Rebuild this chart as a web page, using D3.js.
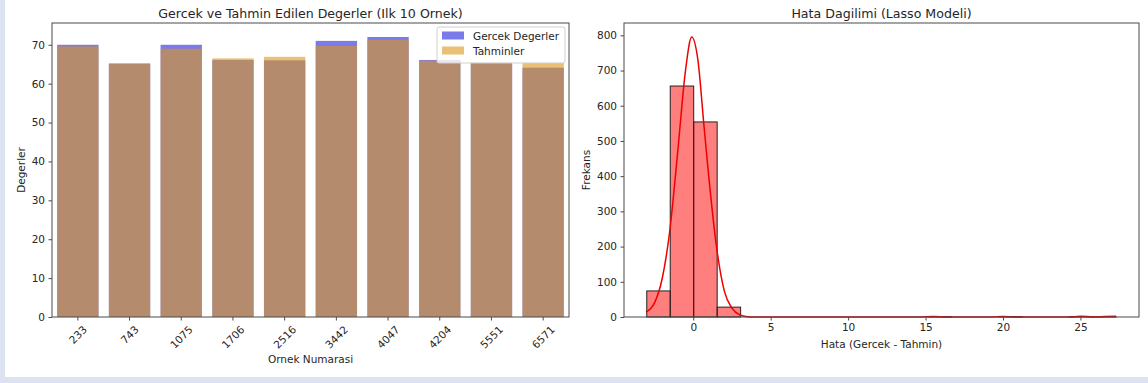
<!DOCTYPE html>
<html>
<head>
<meta charset="utf-8">
<script src="https://cdn.jsdelivr.net/npm/d3@7"></script>
<style>
  body { margin: 0; background: #dde2f0; }
  svg { display: block; }
  text { font-family: "DejaVu Sans", sans-serif; fill: #262626; }
</style>
</head>
<body>
<svg id="chart"></svg>
<script>
// left panel data (first 10 samples)
var sampleIds = ["233", "743", "1075", "1706", "2516", "3442", "4047", "4204", "5551", "6571"];
var gercekValues = [70.0, 65.1, 70.0, 66.1, 66.0, 71.0, 72.0, 66.1, 65.3, 64.1];
var tahminValues = [69.6, 65.3, 69.0, 66.5, 66.9, 69.7, 71.3, 65.9, 65.5, 65.4];
var leftYTicks = [0, 10, 20, 30, 40, 50, 60, 70];

// right panel: histogram of errors, 20 bins
var histStart = -3.0;
var histEnd = 27.3;
var histCounts = [74, 656, 554, 28, 0, 0, 0, 0, 0, 0, 0, 0, 1, 0, 0, 1, 0, 0, 1, 1];
// kde line (x, count)
var kdeX = [-3.05, -2.5, -2.0, -1.5, -1.0, -0.5, -0.1, 0.3, 0.7, 1.0, 1.5, 2.0, 2.5, 3.0, 3.5, 4.0, 8, 14.5, 15.5, 16.5, 19.2, 20.0, 20.8, 24.2, 25.0, 25.8, 26.6, 27.3];
var kdeY = [14, 40, 110, 250, 470, 700, 795, 730, 540, 400, 200, 75, 25, 6, 1, 0, 0, 0, 1.5, 0, 0, 1.5, 0, 0, 2, 0.5, 1.5, 2];
var rightXTicks = [0, 5, 10, 15, 20, 25];
var rightYTicks = [0, 100, 200, 300, 400, 500, 600, 700, 800];

var W = 1148, H = 383;
var svg = d3.select("#chart").attr("width", W).attr("height", H);

// white figure area, light strip left and bottom
svg.append("rect").attr("x", 5).attr("y", 0).attr("width", W - 5).attr("height", 377).attr("fill", "#fff");

var spine = "#4a4a4a";

// ---------- left panel ----------
var L = { x0: 52, x1: 569, y0: 23, y1: 317 };
var xL = d3.scaleBand().domain(sampleIds).range([L.x0, L.x1]).paddingInner(0.2).paddingOuter(0.1);
var yL = d3.scaleLinear().domain([0, 75.6]).range([L.y1, L.y0]);

var gL = svg.append("g");
gL.selectAll("rect.gercek")
  .data(gercekValues)
  .enter()
  .append("rect")
  .attr("class", "gercek")
  .attr("x", function(d, i) { return xL(sampleIds[i]); })
  .attr("width", xL.bandwidth())
  .attr("y", function(d) { return yL(d); })
  .attr("height", function(d) { return yL(0) - yL(d); })
  .attr("fill", "#2121de")
  .attr("fill-opacity", 0.6);

gL.selectAll("rect.tahmin")
  .data(tahminValues)
  .enter()
  .append("rect")
  .attr("class", "tahmin")
  .attr("x", function(d, i) { return xL(sampleIds[i]); })
  .attr("width", xL.bandwidth())
  .attr("y", function(d) { return yL(d); })
  .attr("height", function(d) { return yL(0) - yL(d); })
  .attr("fill", "#da9619")
  .attr("fill-opacity", 0.6);

// y axis
var axL = svg.append("g").attr("transform", "translate(" + L.x0 + ",0)")
  .call(d3.axisLeft(yL).tickValues(leftYTicks).tickSize(3.5).tickPadding(3.5));
axL.select(".domain").remove();
axL.selectAll("line").attr("stroke", spine);
axL.selectAll("text").attr("font-size", "10.5px").style("fill", "#262626");

// x axis with rotated labels
var axLx = svg.append("g").attr("transform", "translate(0," + L.y1 + ")")
  .call(d3.axisBottom(xL).tickSize(3.5).tickFormat(""));
axLx.select(".domain").remove();
axLx.selectAll("line").attr("stroke", spine);

svg.append("g").selectAll("text")
  .data(sampleIds)
  .enter()
  .append("text")
  .attr("font-size", "10.5px")
  .attr("text-anchor", "middle")
  .attr("dominant-baseline", "central")
  .text(function(d) { return d; })
  .attr("transform", function(d) {
    var w = this.getComputedTextLength();
    var h = (w + 10) * 0.7071;
    var cx = xL(d) + xL.bandwidth() / 2;
    return "translate(" + cx + "," + (L.y1 + 7 + h / 2) + ") rotate(-45)";
  });

// frame
svg.append("rect").attr("x", L.x0).attr("y", L.y0).attr("width", L.x1 - L.x0).attr("height", L.y1 - L.y0)
  .attr("fill", "none").attr("stroke", spine).attr("stroke-width", 1);

svg.append("text").attr("x", (L.x0 + L.x1) / 2).attr("y", 18).attr("text-anchor", "middle")
  .attr("font-size", "12.6px").text("Gercek ve Tahmin Edilen Degerler (Ilk 10 Ornek)");
svg.append("text").attr("x", (L.x0 + L.x1) / 2).attr("y", 363).attr("text-anchor", "middle")
  .attr("font-size", "10.5px").text("Ornek Numarasi");
svg.append("text").attr("transform", "translate(25," + ((L.y0 + L.y1) / 2) + ") rotate(-90)")
  .attr("text-anchor", "middle").attr("font-size", "10.5px").text("Degerler");

// legend
var leg = svg.append("g").attr("transform", "translate(437,27)");
leg.append("rect").attr("width", 128).attr("height", 36).attr("rx", 2)
  .attr("fill", "#fff").attr("fill-opacity", 0.8).attr("stroke", "#d0d0d0");
var legItems = [["Gercek Degerler", "#2121de"], ["Tahminler", "#da9619"]];
legItems.forEach(function(it, i) {
  leg.append("rect").attr("x", 5).attr("y", 4.5 + i * 15).attr("width", 22).attr("height", 8)
    .attr("fill", it[1]).attr("fill-opacity", 0.6);
  leg.append("text").attr("x", 36).attr("y", 12.5 + i * 15).attr("font-size", "10.5px").text(it[0]);
});

// ---------- right panel ----------
var R = { x0: 624, x1: 1139, y0: 23, y1: 317 };
var xR = d3.scaleLinear().domain([-4.47, 28.78]).range([R.x0, R.x1]);
var yR = d3.scaleLinear().domain([0, 835]).range([R.y1, R.y0]);
var binW = (histEnd - histStart) / histCounts.length;

svg.append("g").selectAll("rect")
  .data(histCounts)
  .enter()
  .append("rect")
  .attr("x", function(d, i) { return xR(histStart + i * binW); })
  .attr("width", function(d, i) { return xR(histStart + (i + 1) * binW) - xR(histStart + i * binW); })
  .attr("y", function(d) { return yR(d); })
  .attr("height", function(d) { return yR(0) - yR(d); })
  .attr("fill", "#ff0000")
  .attr("fill-opacity", 0.5)
  .attr("stroke", "#222")
  .attr("stroke-width", 1);

var kdePts = kdeX.map(function(x, i) { return [x, kdeY[i]]; });
svg.append("path")
  .datum(kdePts)
  .attr("d", d3.line()
    .x(function(d) { return xR(d[0]); })
    .y(function(d) { return yR(d[1]); })
    .curve(d3.curveMonotoneX))
  .attr("fill", "none")
  .attr("stroke", "#ee0000")
  .attr("stroke-width", 1.5);

var axR = svg.append("g").attr("transform", "translate(" + R.x0 + ",0)")
  .call(d3.axisLeft(yR).tickValues(rightYTicks).tickSize(3.5).tickPadding(3.5));
axR.select(".domain").remove();
axR.selectAll("line").attr("stroke", spine);
axR.selectAll("text").attr("font-size", "10.5px").style("fill", "#262626");

var axRx = svg.append("g").attr("transform", "translate(0," + R.y1 + ")")
  .call(d3.axisBottom(xR).tickValues(rightXTicks).tickSize(3.5).tickPadding(3.5));
axRx.select(".domain").remove();
axRx.selectAll("line").attr("stroke", spine);
axRx.selectAll("text").attr("font-size", "10.5px").style("fill", "#262626");

svg.append("rect").attr("x", R.x0).attr("y", R.y0).attr("width", R.x1 - R.x0).attr("height", R.y1 - R.y0)
  .attr("fill", "none").attr("stroke", spine).attr("stroke-width", 1);

svg.append("text").attr("x", (R.x0 + R.x1) / 2).attr("y", 18).attr("text-anchor", "middle")
  .attr("font-size", "12.6px").text("Hata Dagilimi (Lasso Modeli)");
svg.append("text").attr("x", (R.x0 + R.x1) / 2).attr("y", 348).attr("text-anchor", "middle")
  .attr("font-size", "10.5px").text("Hata (Gercek - Tahmin)");
svg.append("text").attr("transform", "translate(590," + ((R.y0 + R.y1) / 2) + ") rotate(-90)")
  .attr("text-anchor", "middle").attr("font-size", "10.5px").text("Frekans");
</script>
</body>
</html>
